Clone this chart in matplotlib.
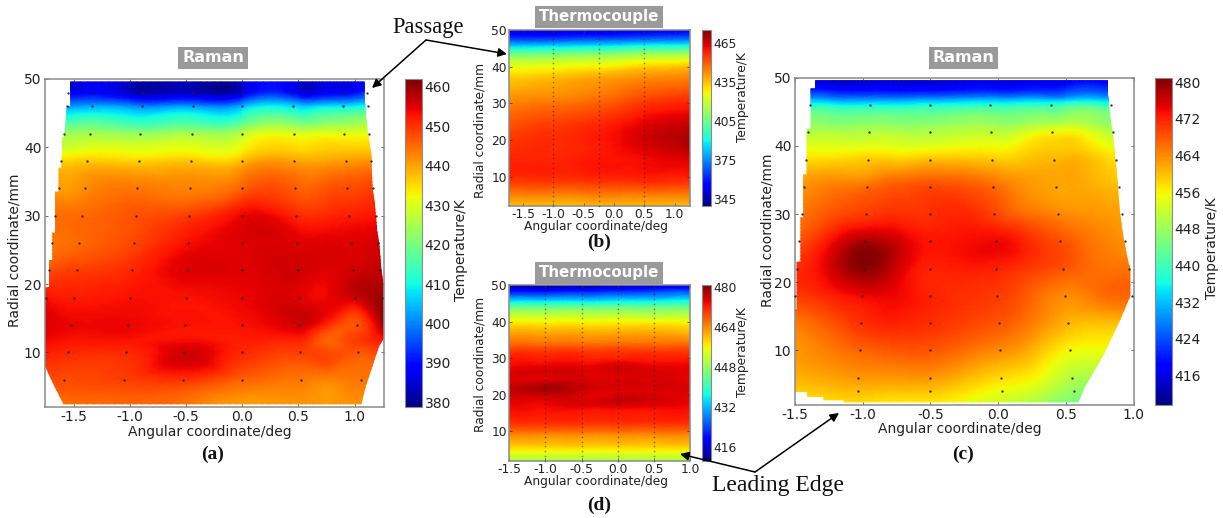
import numpy as np
import matplotlib
matplotlib.use('Agg')
import matplotlib.pyplot as plt
from matplotlib.cm import ScalarMappable
from matplotlib.colors import Normalize
from matplotlib.patches import Polygon, FancyArrowPatch
from matplotlib.tri import Triangulation, UniformTriRefiner

W, H = 1223, 518
plt.rcParams['font.family'] = 'DejaVu Sans'
plt.rcParams['axes.unicode_minus'] = False

# ---------- panel (a) ----------
a_x = [-1.756, -1.5, -1.0, -0.5, 0.0, 0.5, 0.75, 1.0, 1.26]
a_y = [50, 49, 48, 46, 44, 42, 40, 38, 34, 30, 26, 22, 18, 14, 12, 10, 6, 2]
a_t = [
    [386, 385, 383, 383, 384, 385, 385, 386, 386],
    [387, 385, 383, 383, 384, 385, 386, 387, 388],
    [392, 388, 384, 384, 386, 387, 388, 390, 392],
    [405, 402, 401, 402, 404, 406, 408, 409, 410],
    [416, 414, 412, 414, 415, 418, 420, 422, 423],
    [424, 424, 423, 425, 427, 430, 431, 431, 430],
    [430, 429, 430, 431, 432, 435, 436, 436, 436],
    [436, 436, 436, 437, 438, 440, 440, 441, 442],
    [442, 441, 444, 443, 446, 446, 447, 448, 450],
    [445, 445, 447, 449, 454, 451, 451, 452, 453],
    [444, 445, 448, 453, 455, 455, 455, 455, 456],
    [447, 449, 451, 455, 455, 456, 455, 456, 457],
    [453, 452, 453, 453, 454, 455, 454, 456, 460],
    [455, 454, 454, 453, 453, 456, 451, 447, 460],
    [454, 453, 453, 453, 452, 452, 446, 449, 453],
    [452, 451, 451, 456, 451, 449, 448, 447, 450],
    [448, 448, 449, 450, 446, 444, 443, 444, 443],
    [444, 444, 445, 444, 440, 441, 441, 441, 441],
]
a_outline_x = [-1.53, 1.09, 1.09, 1.10, 1.12, 1.15, 1.16, 1.18, 1.20, 1.22, 1.24, 1.26, 1.26,
               1.22, 1.18, 1.15, 1.10, 1.06, -1.59, -1.64, -1.70, -1.756, -1.756, -1.72, -1.72,
               -1.69, -1.69, -1.665, -1.665, -1.635, -1.635, -1.61, -1.60, -1.585, -1.56, -1.53]
a_outline_y = [49.6, 49.6, 47.5, 45, 42, 39, 34, 32, 28, 26, 22, 20, 12,
               11, 9, 7.5, 5, 2.4, 2.4, 4, 6, 8, 19.5, 19.5, 23.5,
               23.5, 27.5, 27.5, 33.5, 33.5, 37, 37, 41.5, 41.5, 46, 46]
a_probe_y = [48, 46, 42, 38, 34, 30, 26, 22, 18, 14, 10, 6]
a_probe_cols = [
    [-1.326, -1.338, -1.359, -1.38, -1.404, -1.427, -1.451, -1.475, -1.501, -1.528, -1.555, -1.585],
    [-0.881, -0.89, -0.908, -0.92, -0.935, -0.95, -0.967, -0.985, -1.0, -1.018, -1.036, -1.056],
    [-0.442, -0.442, -0.451, -0.457, -0.466, -0.475, -0.481, -0.49, -0.501, -0.51, -0.516, -0.528],
    [0, 0, 0, 0, 0, 0, 0, 0, 0, 0, 0, 0],
    [0.445, 0.448, 0.457, 0.463, 0.469, 0.475, 0.484, 0.499, 0.504, 0.51, 0.519, 0.528],
    [0.89, 0.899, 0.905, 0.92, 0.935, 0.95, 0.965, 0.986, 1.0, 1.021, 1.033, 1.056],
    [-1.549, -1.558, -1.585, -1.611, -1.635, -1.665, -1.694, -1.721, -1.751],
    [1.107, 1.116, 1.13, 1.148, 1.169, 1.19, 1.211, 1.231, 1.249],
]
a_cbar_ticks = [380, 390, 400, 410, 420, 430, 440, 450, 460]

# ---------- panel (b) ----------
b_x = [-1.73, -1.0, -0.25, 0.5, 1.26]
b_y = [50, 48, 46, 44, 42, 40, 38, 34, 30, 26, 22, 18, 14, 10, 6, 2]
b_t = [
    [352, 352, 353, 354, 356],
    [362, 362, 364, 366, 368],
    [381, 382, 384, 387, 388],
    [401, 402, 404, 408, 410],
    [417, 417, 419, 423, 425],
    [425, 426, 428, 433, 436],
    [431, 433, 436, 440, 442],
    [438, 440, 443, 448, 450],
    [444, 446, 449, 455, 458],
    [449, 452, 455, 461, 464],
    [453, 456, 459, 465, 469],
    [456, 457, 459, 464, 469],
    [458, 458, 460, 461, 463],
    [457, 457, 458, 459, 459],
    [447, 447, 448, 448, 448],
    [435, 435, 436, 436, 436],
]
b_probe_x = [-1.0, -0.25, 0.5]
b_cbar_ticks = [345, 375, 405, 435, 465]

# ---------- panel (c) ----------
c_x = [-1.5, -1.25, -1.0, -0.75, -0.5, 0.0, 0.25, 0.5, 0.75, 1.0]
c_y = [50, 49, 48, 47, 46, 44, 42, 40, 38, 36, 34, 30, 26, 22, 18, 14, 10, 6, 2]
c_t = [
    [414, 414, 414, 414, 414, 415, 415, 416, 416, 416],
    [416, 416, 416, 416, 416, 417, 418, 419, 420, 420],
    [422, 421, 420, 420, 420, 421, 422, 423, 424, 424],
    [430, 428, 427, 427, 428, 429, 430, 430, 431, 431],
    [438, 437, 436, 436, 437, 438, 439, 440, 440, 440],
    [446, 445, 445, 445, 445, 446, 447, 448, 447, 447],
    [450, 450, 450, 450, 450, 451, 454, 456, 452, 451],
    [454, 454, 454, 454, 454, 455, 458, 459, 456, 454],
    [458, 458, 459, 459, 460, 459, 460, 461, 459, 457],
    [461, 462, 462, 464, 465, 463, 462, 462, 460, 459],
    [463, 465, 466, 468, 469, 466, 463, 462, 461, 460],
    [465, 468, 470, 471, 471, 469, 466, 464, 463, 462],
    [468, 473, 478, 476, 473, 474, 471, 468, 465, 463],
    [471, 475, 480, 476, 472, 472, 470, 468, 466, 466],
    [470, 472, 474, 474, 472, 470, 467, 464, 466, 467],
    [465, 468, 471, 472, 471, 468, 465, 461, 460, 460],
    [463, 465, 467, 468, 468, 464, 461, 456, 455, 454],
    [461, 462, 463, 463, 463, 458, 456, 451, 449, 449],
    [456, 457, 457, 456, 456, 452, 449, 445, 443, 443],
]
c_outline_x = [-1.35, 0.81, 0.81, 0.825, 0.85, 0.875, 0.90, 0.925, 0.96, 0.975, 0.975, 0.892,
               0.776, 0.641, 0.592, -1.14, -1.14, -1.29, -1.29, -1.41, -1.41, -1.5, -1.5,
               -1.488, -1.488, -1.46, -1.46, -1.438, -1.438, -1.414, -1.414, -1.384, -1.384, -1.35]
c_outline_y = [49.6, 49.6, 47.5, 44.5, 41, 36, 30, 26.5, 23, 22, 18, 14.1,
               9.3, 4.7, 2.4, 2.4, 2.7, 2.7, 3.2, 3.2, 3.9, 3.9, 16,
               16, 23, 23, 29.5, 29.5, 35.8, 35.8, 42.5, 42.5, 48.4, 48.4]
c_probe_y = [46, 42, 38, 34, 30, 26, 22, 18, 14, 10, 6, 4]
c_probe_cols = [
    [-1.392, -1.406, -1.421, -1.436, -1.451, -1.468, -1.485, -1.498],
    [-0.949, -0.954, -0.964, -0.971, -0.979, -0.986, -0.991, -1.003, -1.01, -1.023, -1.032, -1.037],
    [-0.5, -0.5, -0.5, -0.5, -0.5, -0.5, -0.5, -0.5, -0.5, -0.5, -0.5, -0.5],
    [-0.058, -0.054, -0.044, -0.036, -0.029, -0.019, -0.014, -0.007, 0.003, 0.011, 0.023, 0.028],
    [0.387, 0.40, 0.414, 0.429, 0.444, 0.459, 0.476, 0.493, 0.513, 0.53, 0.547, 0.56],
    [0.83, 0.85, 0.872, 0.892, 0.916, 0.939, 0.963, 0.99],
]
c_cbar_ticks = [416, 424, 432, 440, 448, 456, 464, 472, 480]

# ---------- panel (d) ----------
d_x = [-1.5, -1.0, -0.5, 0.0, 0.5, 1.0]
d_y = [50, 48, 46, 44, 42, 40, 38, 36, 34, 32, 30, 28, 26, 24, 22, 20, 18, 16, 14, 12, 10, 8, 6, 4, 2]
d_t = [
    [412, 412, 413, 414, 415, 416],
    [422, 422, 423, 424, 425, 426],
    [433, 433, 433, 434, 434, 435],
    [444, 444, 444, 444, 444, 444],
    [451, 451, 451, 451, 450, 450],
    [456, 456, 456, 456, 456, 455],
    [460, 460, 460, 460, 460, 459],
    [463, 463, 463, 463, 463, 462],
    [466, 466, 466, 466, 466, 466],
    [470, 470, 470, 470, 470, 470],
    [472, 472, 472, 472, 472, 472],
    [473, 474, 474, 475, 474, 474],
    [474, 475, 475, 475, 475, 474],
    [474, 475, 475, 475, 475, 474],
    [476, 478, 476, 475, 475, 475],
    [475, 476, 475, 475, 475, 474],
    [474, 474, 475, 476, 475, 474],
    [473, 473, 473, 473, 473, 473],
    [472, 472, 472, 472, 472, 472],
    [470, 470, 470, 470, 470, 470],
    [466, 466, 466, 466, 466, 466],
    [462, 462, 462, 462, 462, 462],
    [459, 459, 459, 459, 459, 459],
    [454, 454, 454, 454, 454, 454],
    [450, 450, 450, 450, 450, 450],
]
d_probe_x = [-1.0, -0.5, 0.0, 0.5]
d_cbar_ticks = [416, 432, 448, 464, 480]

probe_y_dense = [2.0, 3.3, 4.6, 5.9, 7.2, 8.5, 9.8, 11.1, 12.4, 13.7, 15.0, 16.3, 17.6, 18.9, 20.2,
                 21.5, 22.8, 24.1, 25.4, 26.7, 28.0, 29.3, 30.6, 31.9, 33.2, 34.5, 35.8, 37.1,
                 38.4, 39.7, 41.0, 42.3, 43.6, 44.9, 46.2, 47.5, 48.8]
x_ticks = [-1.5, -1.0, -0.5, 0.0, 0.5, 1.0]
y_ticks = [10, 20, 30, 40, 50]
X_LABEL = 'Angular coordinate/deg'
Y_LABEL = 'Radial coordinate/mm'
C_LABEL = 'Temperature/K'

fig = plt.figure(figsize=(W / 100, H / 100), dpi=100)
TXT = '#222222'
SPINE = '#8a8a8a'


def box(l, t, r, b):
    return [l / W, 1 - b / H, (r - l) / W, (b - t) / H]


def panel(rect, cbar_rect, x, y, t, xlim, vmin, vmax, cticks, title, title_xy, fs, title_fs,
          tick_pad, xlab_xy, ylab_xy, clab_xy, outline=None):
    ax = fig.add_axes(box(*rect))
    ax.set_xlim(*xlim)
    ax.set_ylim(2, 50)
    gx, gy = np.meshgrid(np.array(x, float), np.array(y, float))
    tri = Triangulation(gx.ravel(), gy.ravel())
    tri_fine, t_fine = UniformTriRefiner(tri).refine_field(np.array(t, float).ravel(), subdiv=3)
    pc = ax.tripcolor(tri_fine, t_fine, shading='gouraud', cmap='jet', vmin=vmin, vmax=vmax)
    if outline is not None:
        pc.set_clip_path(Polygon(np.column_stack(outline), closed=True, transform=ax.transData))
    ax.set_xticks(x_ticks)
    ax.set_xticklabels([f'{v:.1f}' for v in x_ticks])
    ax.set_yticks(y_ticks)
    ax.tick_params(direction='in', length=2.2, width=0.5, top=True, right=True, color='#333333',
                   labelsize=fs, labelcolor=TXT, pad=tick_pad)
    for s in ax.spines.values():
        s.set_color(SPINE)
        s.set_linewidth(1.1)
    l, t_, r, b = rect
    pw, ph = r - l, b - t_
    ax.set_xlabel(X_LABEL, fontsize=fs, color=TXT)
    ax.xaxis.set_label_coords((xlab_xy[0] - l) / pw, (b - xlab_xy[1]) / ph)
    ax.xaxis.label.set_verticalalignment('center')
    ax.set_ylabel(Y_LABEL, fontsize=fs, color=TXT)
    ax.yaxis.set_label_coords((ylab_xy[0] - l) / pw, (b - ylab_xy[1]) / ph)
    ax.yaxis.label.set_verticalalignment('center')
    ax.set_title(title, x=(title_xy[0] - l) / pw, y=(b - title_xy[1]) / ph, va='center', pad=0,
                 color='white', fontweight='bold', fontsize=title_fs,
                 bbox=dict(facecolor='#9a9a9a', edgecolor='none', pad=2.6))
    cax = fig.add_axes(box(*cbar_rect))
    cb = fig.colorbar(ScalarMappable(Normalize(vmin, vmax), 'jet'), cax=cax, ticks=cticks)
    cb.outline.set_edgecolor(SPINE)
    cb.outline.set_linewidth(0.8)
    cax.tick_params(length=0, labelsize=fs, labelcolor=TXT, pad=2)
    cb.set_label(C_LABEL, fontsize=fs, color=TXT)
    cl, ct, cr, cbm = cbar_rect
    cax.yaxis.set_label_coords((clab_xy[0] - cl) / (cr - cl), (cbm - clab_xy[1]) / (cbm - ct))
    cax.yaxis.label.set_verticalalignment('center')
    return ax


def dots(ax, xs, ys, size=1.7, alpha=0.9):
    ax.plot(xs, ys[:len(xs)], ls='none', marker='o', ms=size, mfc='#222222', mec='none',
            alpha=alpha, clip_on=False, zorder=5)


ax_a = panel((45, 79, 383.7, 407), (404.7, 79, 421.7, 407), a_x, a_y, a_t, (-1.756, 1.26),
             378.8, 462, a_cbar_ticks, 'Raman', (213, 58), 10, 11.5, 2.5,
             (210, 431.7), (15, 250.7), (461, 250), (a_outline_x, a_outline_y))
for col in a_probe_cols:
    dots(ax_a, col, a_probe_y)

ax_b = panel((509, 30, 690.3, 206), (701.7, 30, 710.7, 206), b_x, b_y, b_t, (-1.73, 1.26),
             340, 475, b_cbar_ticks, 'Thermocouple', (599, 17), 8.8, 10.8, 1.5,
             (595.7, 226.5), (480, 130), (742.7, 97))
for xv in b_probe_x:
    dots(ax_b, [xv] * len(probe_y_dense), probe_y_dense, 1.2, 0.5)

ax_d = panel((509, 285.3, 690.5, 460.7), (701.7, 285.3, 710.7, 460.7), d_x, d_y, d_t, (-1.5, 1.0),
             410.4, 480.5, d_cbar_ticks, 'Thermocouple', (599, 273), 8.8, 10.8, 1.5,
             (595.7, 482), (480, 364), (742.7, 352))
for xv in d_probe_x:
    dots(ax_d, [xv] * len(probe_y_dense), probe_y_dense, 1.2, 0.5)

ax_c = panel((795, 77.7, 1133.7, 405), (1155, 77.7, 1171.7, 405), c_x, c_y, c_t, (-1.5, 1.0),
             409.5, 481, c_cbar_ticks, 'Raman', (963.5, 58), 10, 11.5, 2.5,
             (960, 429), (767.7, 230), (1211.7, 248), (c_outline_x, c_outline_y))
for col in c_probe_cols:
    dots(ax_c, col, c_probe_y)


def ftext(x, y, s, **kw):
    fig.text(x / W, 1 - y / H, s, ha='center', va='center', family='Liberation Serif', color='#111111', **kw)


ftext(213, 454, '(a)', fontsize=14, fontweight='bold')
ftext(599, 242, '(b)', fontsize=14, fontweight='bold')
ftext(963, 454, '(c)', fontsize=14, fontweight='bold')
ftext(599, 505, '(d)', fontsize=14, fontweight='bold')
ftext(428, 27, 'Passage', fontsize=16.3)
ftext(778, 486, 'Leading Edge', fontsize=17)


def arrow(start, tip):
    fig.add_artist(FancyArrowPatch(
        (start[0] / W, 1 - start[1] / H), (tip[0] / W, 1 - tip[1] / H),
        transform=fig.transFigure, arrowstyle='-|>', mutation_scale=13, lw=1.1, color='black',
        shrinkA=0, shrinkB=0))


arrow((426, 40), (372, 88))
arrow((426, 40), (507, 54))
arrow((755, 472), (680, 454))
arrow((755, 472), (839, 413))

fig.savefig('out.png', dpi=100)
